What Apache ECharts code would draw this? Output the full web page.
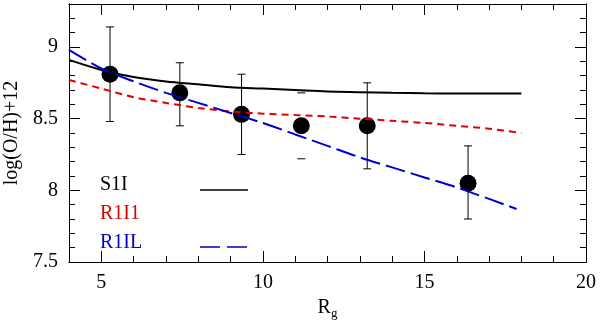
<!DOCTYPE html>
<html>
<head>
<meta charset="utf-8">
<script src="https://cdn.jsdelivr.net/npm/echarts@6/dist/echarts.min.js"></script>
<style>
html,body{margin:0;padding:0;background:#fff;}
#chart{width:600px;height:322px;}
</style>
</head>
<body>
<div id="chart"></div>
<script>
// observed points with error bars
var ptX = [5.27, 7.43, 9.34, 11.19, 13.23, 16.35];
var ptY = [8.81, 8.68, 8.53, 8.45, 8.45, 8.05];
var errLo = [8.48, 8.45, 8.25, 8.22, 8.15, 7.80];
var errHi = [9.14, 8.89, 8.81, 8.68, 8.75, 8.31];
var errStem = [1, 1, 1, 0, 1, 1];
// model curves
var s1iX = [4, 5, 6, 7, 8, 9, 10, 11, 12, 13, 14, 15, 16, 17, 18];
var s1iY = [8.91, 8.84, 8.79, 8.76, 8.74, 8.72, 8.71, 8.70, 8.69, 8.685, 8.68, 8.677, 8.675, 8.675, 8.675];
var r1i1X = [4, 5, 6, 7, 8, 9, 10, 11, 12, 13, 14, 15, 16, 17, 18];
var r1i1Y = [8.77, 8.71, 8.65, 8.61, 8.575, 8.55, 8.535, 8.525, 8.515, 8.50, 8.485, 8.47, 8.45, 8.43, 8.40];
var r1ilX = [4, 5, 6, 7, 8, 9, 10, 11, 12, 13, 14, 15, 16, 17, 17.85];
var r1ilY = [8.98, 8.85, 8.76, 8.68, 8.61, 8.54, 8.47, 8.39, 8.31, 8.23, 8.16, 8.09, 8.02, 7.94, 7.87];
// ticks
var xMajorTicks = [5, 10, 15, 20];
var xMinorTicks = [4, 5, 6, 7, 8, 9, 10, 11, 12, 13, 14, 15, 16, 17, 18, 19, 20];
var yMajorTicks = [7.5, 8, 8.5, 9];
var yMinorTicks = [7.6, 7.7, 7.8, 7.9, 8.1, 8.2, 8.3, 8.4, 8.6, 8.7, 8.8, 8.9, 9.1, 9.2];

var FONT = 'Liberation Serif';

function zip(xs, ys) {
	return xs.map(function (x, i) { return [x, ys[i]]; });
}

function xAx(pos, ticks, len, labels) {
	return {
		type: 'value', position: pos, min: 4, max: 20, interval: 1,
		axisLine: { show: true, onZero: false, lineStyle: { color: '#000', width: 1 } },
		axisTick: { show: true, inside: true, length: len, customValues: ticks, lineStyle: { color: '#000' } },
		axisLabel: labels ? { show: true, customValues: xMajorTicks, color: '#000', fontFamily: FONT, fontSize: 20, margin: 11 } : { show: false },
		splitLine: { show: false }
	};
}
function yAx(pos, ticks, len, labels) {
	return {
		type: 'value', position: pos, min: 7.5, max: 9.3, interval: 0.1,
		axisLine: { show: true, onZero: false, lineStyle: { color: '#000', width: 1 } },
		axisTick: { show: true, inside: true, length: len, customValues: ticks, lineStyle: { color: '#000' } },
		axisLabel: labels ? { show: true, customValues: yMajorTicks, color: '#000', fontFamily: FONT, fontSize: 20, margin: 11 } : { show: false },
		splitLine: { show: false }
	};
}

var xAxes = [xAx('bottom', xMajorTicks, 11, true), xAx('bottom', xMinorTicks, 6, false),
	xAx('top', xMajorTicks, 11, false), xAx('top', xMinorTicks, 6, false)];
xAxes[0].name = '{a|R}{b|g}';
xAxes[0].nameLocation = 'middle';
xAxes[0].nameGap = 33;
xAxes[0].nameTextStyle = { rich: {
	a: { fontFamily: FONT, fontSize: 20, color: '#000' },
	b: { fontFamily: FONT, fontSize: 13, color: '#000', padding: [12, 0, 0, 0] }
} };
var yAxes = [yAx('left', yMajorTicks, 11, true), yAx('left', yMinorTicks, 6, false),
	yAx('right', yMajorTicks, 11, false), yAx('right', yMinorTicks, 6, false)];
yAxes[0].name = 'log(O/H)+12';
yAxes[0].nameLocation = 'middle';
yAxes[0].nameRotate = 90;
yAxes[0].nameGap = 42;
yAxes[0].nameTextStyle = { fontFamily: FONT, fontSize: 20, color: '#000' };

var errData = ptX.map(function (x, i) { return [x, errLo[i], errHi[i], errStem[i]]; });

var chart = echarts.init(document.getElementById('chart'));
chart.setOption({
	backgroundColor: '#fff',
	animation: false,
	grid: { left: 69, right: 14, top: 4, bottom: 60, containLabel: false, outerBoundsMode: 'none' },
	xAxis: xAxes,
	yAxis: yAxes,
	graphic: [
		{ type: 'text', left: 100, top: 175, style: { text: 'S1I', font: '20px ' + FONT, fill: '#000' } },
		{ type: 'text', left: 100, top: 204, style: { text: 'R1I1', font: '20px ' + FONT, fill: '#e00000' } },
		{ type: 'text', left: 100, top: 233, style: { text: 'R1IL', font: '20px ' + FONT, fill: '#0000cc' } },
		{ type: 'line', shape: { x1: 200, y1: 190, x2: 248, y2: 190 }, style: { stroke: '#000', lineWidth: 1.3 } },
		{ type: 'line', shape: { x1: 200, y1: 247, x2: 247, y2: 247 }, style: { stroke: '#0000cc', lineWidth: 1.5, lineDash: [20, 7] } }
	],
	series: [
		{
			type: 'custom',
			data: errData,
			z: 1,
			renderItem: function (params, api) {
				var lo = api.coord([api.value(0), api.value(1)]);
				var hi = api.coord([api.value(0), api.value(2)]);
				var st = { stroke: '#000', lineWidth: 1 };
				var kids = [
					{ type: 'line', shape: { x1: lo[0] - 4, y1: lo[1], x2: lo[0] + 4, y2: lo[1] }, style: st },
					{ type: 'line', shape: { x1: hi[0] - 4, y1: hi[1], x2: hi[0] + 4, y2: hi[1] }, style: st }
				];
				if (api.value(3)) {
					kids.push({ type: 'line', shape: { x1: lo[0], y1: lo[1], x2: hi[0], y2: hi[1] }, style: st });
				}
				return { type: 'group', children: kids };
			}
		},
		{
			type: 'scatter',
			data: zip(ptX, ptY),
			symbol: 'circle',
			symbolSize: 17,
			itemStyle: { color: '#000', opacity: 1 },
			z: 2
		},
		{
			type: 'line', data: zip(s1iX, s1iY), showSymbol: false, smooth: 0.3, z: 3,
			lineStyle: { color: '#000', width: 2 }
		},
		{
			type: 'line', data: zip(r1i1X, r1i1Y), showSymbol: false, smooth: 0.3, z: 3,
			lineStyle: { color: '#e00000', width: 2, type: [7, 5] }
		},
		{
			type: 'line', data: zip(r1ilX, r1ilY), showSymbol: false, smooth: 0.3, z: 3,
			lineStyle: { color: '#0000cc', width: 2, type: [20, 6] }
		}
	]
});
</script>
</body>
</html>
